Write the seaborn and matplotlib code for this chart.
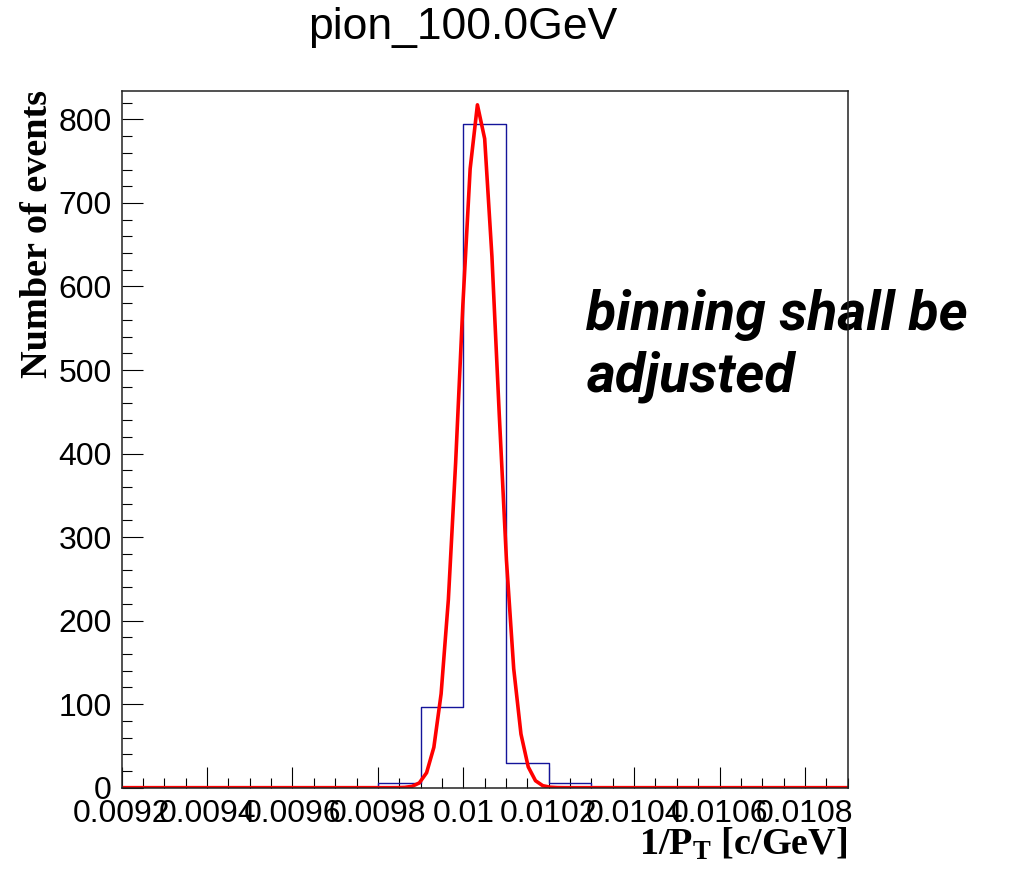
import numpy as np
import pandas as pd
import matplotlib
matplotlib.use("Agg")
import matplotlib.pyplot as plt
from matplotlib.ticker import MultipleLocator, FuncFormatter
import seaborn as sns

# histogram: 1/pT bins (width 0.0001) and counts
bin_edges = [0.0092, 0.0093, 0.0094, 0.0095, 0.0096, 0.0097, 0.0098, 0.0099,
             0.0100, 0.0101, 0.0102, 0.0103, 0.0104, 0.0105, 0.0106, 0.0107,
             0.0108, 0.0109]
counts = [0, 0, 0, 0, 0, 0, 6, 97, 794, 29, 6, 0, 0, 0, 0, 0, 0]

# gaussian fit drawn in red
fit_constant = 819.0
fit_mean = 0.0100357
fit_sigma = 0.000044

edges = np.array(bin_edges)
hist_df = pd.DataFrame({'x': (edges[:-1] + edges[1:]) / 2, 'n': counts})

plt.rcParams['mathtext.fontset'] = 'custom'
plt.rcParams['mathtext.bf'] = 'Liberation Serif:bold'
plt.rcParams['mathtext.rm'] = 'Liberation Serif:bold'

fig = plt.figure(figsize=(10.25, 8.75), dpi=100)
ax = fig.add_axes([0.1187, 0.0998, 0.7083, 0.7962])

sns.histplot(data=hist_df, x='x', weights='n', bins=bin_edges, element='step',
             fill=False, color='#14149a', linewidth=1.0, ax=ax)

fx = np.linspace(edges[0], edges[-1], 101)
fy = fit_constant * np.exp(-0.5 * ((fx - fit_mean) / fit_sigma) ** 2)
sns.lineplot(x=fx, y=fy, color='red', linewidth=2.6, ax=ax)

ax.set_xlim(0.0092, 0.0109)
ax.set_ylim(0, 834)
ax.set_xlabel('')
ax.set_ylabel('')

ax.xaxis.set_major_locator(MultipleLocator(0.0002))
ax.xaxis.set_minor_locator(MultipleLocator(0.00005))
ax.yaxis.set_major_locator(MultipleLocator(100))
ax.yaxis.set_minor_locator(MultipleLocator(20))
ax.xaxis.set_major_formatter(FuncFormatter(lambda v, p: f'{v:g}'))

ax.tick_params(axis='both', which='major', direction='in', length=15, width=0.8,
               labelsize=23, color='black')
ax.tick_params(axis='both', which='minor', direction='in', length=7, width=0.8,
               color='black')
ax.tick_params(axis='x', which='major', pad=8)
ax.tick_params(axis='y', which='major', pad=7)
for lab in ax.get_xticklabels() + ax.get_yticklabels():
    lab.set_family('Liberation Sans')
for s in ax.spines.values():
    s.set_linewidth(1.1)
    s.set_color('#222222')

fig.text(0.451, 0.955, 'pion_100.0GeV', ha='center', va='baseline',
         fontsize=32, family='Liberation Sans')

fig.text(0.0366, 0.897, 'Number of events', rotation=90, ha='center', va='top',
         fontsize=27.5, family='Liberation Serif', weight='bold')
fig.text(0.827, 0.0229, r'1/P$\mathbf{_T}$ [c/GeV]', ha='right', va='baseline',
         fontsize=27.5, family='Liberation Serif', weight='bold')

# note sits under the frame line, like the pasted text box in the original
ax.text(0.572, 0.552, 'binning shall be\nadjusted', ha='left', va='baseline',
        fontsize=40, family=['Roboto', 'DejaVu Sans'], weight='bold',
        style='italic', linespacing=1.24, transform=fig.transFigure,
        clip_on=False, zorder=0.5)

plt.savefig('out.png', dpi=100)
